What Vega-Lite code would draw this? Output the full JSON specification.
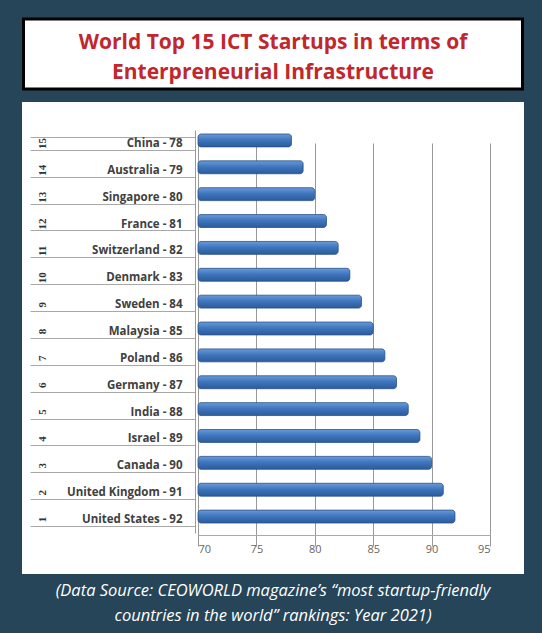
{
  "$schema": "https://vega.github.io/schema/vega-lite/v6.json",
  "background": "#264559",
  "padding": {"top": 17, "left": 22, "right": 18, "bottom": 0},
  "spacing": 13,
  "center": true,
  "bounds": "flush",
  "config": {"view": {"stroke": null}},
  "datasets": {
    "ranking": [
      {"rank": 1, "country": "United States", "score": 92, "label": "United States - 92"},
      {"rank": 2, "country": "United Kingdom", "score": 91, "label": "United Kingdom - 91"},
      {"rank": 3, "country": "Canada", "score": 90, "label": "Canada - 90"},
      {"rank": 4, "country": "Israel", "score": 89, "label": "Israel - 89"},
      {"rank": 5, "country": "India", "score": 88, "label": "India - 88"},
      {"rank": 6, "country": "Germany", "score": 87, "label": "Germany - 87"},
      {"rank": 7, "country": "Poland", "score": 86, "label": "Poland - 86"},
      {"rank": 8, "country": "Malaysia", "score": 85, "label": "Malaysia - 85"},
      {"rank": 9, "country": "Sweden", "score": 84, "label": "Sweden - 84"},
      {"rank": 10, "country": "Denmark", "score": 83, "label": "Denmark - 83"},
      {"rank": 11, "country": "Switzerland", "score": 82, "label": "Switzerland - 82"},
      {"rank": 12, "country": "France", "score": 81, "label": "France - 81"},
      {"rank": 13, "country": "Singapore", "score": 80, "label": "Singapore - 80"},
      {"rank": 14, "country": "Australia", "score": 79, "label": "Australia - 79"},
      {"rank": 15, "country": "China", "score": 78, "label": "China - 78"}
    ]
  },
  "vconcat": [
    {
      "width": 499,
      "height": 70,
      "view": {"fill": "white", "stroke": "black", "strokeWidth": 3},
      "data": {"values": [{"t": "World Top 15 ICT Startups in terms of\nEnterpreneurial Infrastructure"}]},
      "mark": {"type": "text", "lineBreak": "\n", "font": "Open Sans", "fontSize": 21, "fontWeight": "bold", "color": "#c1272d", "lineHeight": 30, "align": "center", "baseline": "middle", "dy": -11},
      "encoding": {"text": {"field": "t", "type": "nominal"}}
    },
    {
      "width": 502,
      "height": 472,
      "view": {"fill": "white", "stroke": null},
      "data": {"name": "ranking"},
      "resolve": {"scale": {"y": "independent"}, "axis": {"y": "independent"}},
      "layer": [
        {
          "mark": {
            "type": "bar",
            "cornerRadius": 3,
            "yOffset": -3,
            "stroke": "#28508a",
            "strokeWidth": 0.8,
            "color": {"gradient": "linear", "x1": 0, "y1": 0, "x2": 0, "y2": 1,
              "stops": [{"offset": 0, "color": "#6b9bd8"}, {"offset": 0.45, "color": "#3f76bd"}, {"offset": 1, "color": "#2b5b9c"}]}
          },
          "encoding": {
            "y": {
              "field": "label", "type": "nominal",
              "sort": {"field": "rank", "order": "descending"},
              "scale": {"range": [28, 431], "paddingInner": 0.52, "paddingOuter": 0.26},
              "axis": {
                "orient": "left", "offset": -173, "title": null,
                "domain": true, "domainColor": "#9a9a9a",
                "ticks": true, "tickBand": "extent", "tickSize": 165, "tickColor": "#a8a8a8",
                "labelPadding": -152, "labelFont": "Open Sans", "labelFontSize": 11.5,
                "labelFontWeight": "bold", "labelColor": "#404040", "grid": false
              }
            },
            "x": {
              "field": "score", "type": "quantitative",
              "scale": {"domain": [70, 95], "range": [176, 468], "nice": false, "zero": false},
              "axis": {
                "orient": "bottom", "offset": -39, "title": null,
                "values": [70, 75, 80, 85, 90, 95],
                "grid": true, "gridColor": "#999999", "gridWidth": 1,
                "domain": true, "domainColor": "#aaaaaa", "ticks": true, "tickColor": "#999999", "tickSize": 4,
                "labels": true, "labelPadding": 4, "labelFont": "Open Sans", "labelFontSize": 11, "labelColor": "#666666"
              }
            },
            "x2": {"datum": 70}
          }
        },
        {
          "mark": {"type": "point", "opacity": 0},
          "encoding": {
            "y": {
              "field": "rank", "type": "nominal",
              "sort": {"field": "rank", "order": "descending"},
              "scale": {"type": "band", "range": [28, 431], "paddingInner": 0.52, "paddingOuter": 0.26},
              "axis": {
                "orient": "left", "offset": -173, "title": null,
                "domain": false, "ticks": false, "grid": false,
                "labelPadding": 153, "labelAngle": -90, "labelAlign": "center", "labelBaseline": "middle",
                "labelFont": "Liberation Serif", "labelFontSize": 11, "labelFontWeight": "bold", "labelColor": "#333333"
              }
            }
          }
        }
      ]
    },
    {
      "width": 502,
      "height": 48,
      "view": {"fill": null, "stroke": null},
      "data": {"values": [{"t": "(Data Source: CEOWORLD magazine’s “most startup-friendly\ncountries in the world” rankings: Year 2021)"}]},
      "mark": {"type": "text", "lineBreak": "\n", "font": "Open Sans", "fontSize": 16.5, "fontStyle": "italic", "color": "white", "lineHeight": 25, "align": "center", "baseline": "middle", "dy": -20},
      "encoding": {"text": {"field": "t", "type": "nominal"}}
    }
  ]
}
